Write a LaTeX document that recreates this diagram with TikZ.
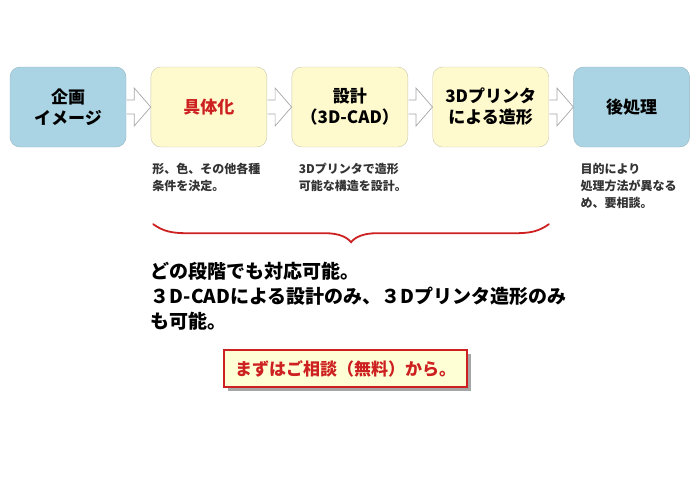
\documentclass[tikz,border=0pt]{standalone}
\usepackage{fontspec}
\setmainfont{Noto Sans CJK JP}
\usetikzlibrary{positioning,calc,shadows}
\definecolor{stageblue}{RGB}{170,212,228}
\definecolor{stageyellow}{RGB}{255,249,206}
\definecolor{blueline}{RGB}{150,180,192}
\definecolor{yellowline}{RGB}{200,200,175}
\definecolor{callred}{RGB}{205,32,32}
\definecolor{callfill}{RGB}{255,255,214}
\tikzset{
    stage/.style={rounded corners=10pt, minimum width=116pt, minimum height=80pt, inner sep=0pt, align=center, font=\fontsize{17}{21}\selectfont\bfseries},
    bluestage/.style={stage, draw=blueline, fill=stageblue},
    yellowstage/.style={stage, draw=yellowline, fill=stageyellow},
    note/.style={anchor=north west, align=left, inner sep=0pt, text=black!80, font=\fontsize{12}{17}\selectfont\bfseries},
    flowarrow/.style={draw=gray!70, fill=white, line width=0.7pt, line join=miter},
    bracepen/.style={draw=callred, line width=1.8pt, line cap=round},
}
\begin{document}
\begin{tikzpicture}[x=1pt, y=-1pt]
    \useasboundingbox (0,0) rectangle (700,499);
    \node[bluestage] (plan) at (68,107) {企画\\イメージ};
    \node[yellowstage, right=24.5pt of plan, text=callred] (shape) {具体化};
    \node[yellowstage, right=24.5pt of shape] (design) {設計\\（3D-CAD）};
    \node[yellowstage, right=24.5pt of design] (print) {3Dプリンタ\\による造形};
    \node[bluestage, right=24.5pt of print] (post) {後処理};
    \foreach \a/\b in {plan/shape, shape/design, design/print, print/post}
        \draw[flowarrow] ($(\a.east)+(0.5,-7)$) -- ++(7.5,0) -- ++(0,-12) -- (\b.west) -- ($(\a.east)+(8,19)$) -- ++(0,-12) -- ($(\a.east)+(0.5,7)$);
    \node[note] (shapenote) at ([xshift=1.5pt, yshift=-16pt]shape.south west) {形、色、その他各種\\条件を決定。};
    \node[note] (designnote) at ([xshift=7pt, yshift=-16pt]design.south west) {3Dプリンタで造形\\可能な構造を設計。};
    \node[note] (postnote) at ([xshift=7pt, yshift=-16pt]post.south west) {目的により\\処理方法が異なる\\め、要相談。};
    \coordinate (braceL) at ([xshift=2.5pt, yshift=-77pt]shape.south west);
    \coordinate (braceR) at ([yshift=-77pt]print.south east);
    \coordinate (bracetip) at ($(braceL)!0.5!(braceR)+(0,18)$);
    \draw[bracepen] (braceL) .. controls ($(braceL)+(10,7)$) and ($(braceL)+(18,9)$) .. ($(braceL)+(34,9)$)
        -- ($(bracetip)+(-26,-9)$) .. controls ($(bracetip)+(-12,-9)$) and ($(bracetip)+(-4,-5)$) .. (bracetip)
        .. controls ($(bracetip)+(4,-5)$) and ($(bracetip)+(12,-9)$) .. ($(bracetip)+(26,-9)$)
        -- ($(braceR)+(-34,9)$) .. controls ($(braceR)+(-18,9)$) and ($(braceR)+(-10,7)$) .. (braceR);
    \node[anchor=north west, align=left, inner sep=0pt, font=\fontsize{19}{25}\selectfont\bfseries] (msg) at ([yshift=-115pt]shape.south west) {どの段階でも対応可能。\\３D-CADによる設計のみ、３Dプリンタ造形のみ\\も可能。};
    \node[draw=callred, line width=1.2pt, fill=callfill, text=callred, minimum width=243pt, minimum height=37pt, font=\fontsize{17}{17}\selectfont\bfseries, drop shadow={shadow xshift=4pt, shadow yshift=-4pt, fill=gray!70, opacity=1}] (call) at (345.5,368.5) {まずはご相談（無料）から。};
\end{tikzpicture}
\end{document}
